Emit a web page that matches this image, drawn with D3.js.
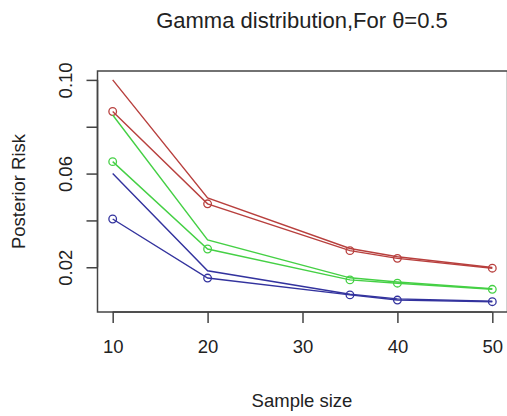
<!DOCTYPE html>
<html>
<head>
<meta charset="utf-8">
<script src="https://cdn.jsdelivr.net/npm/d3@7"></script>
<style>
  html, body { margin: 0; padding: 0; background: #fff; }
  svg { display: block; font-family: "Liberation Sans", Arial, sans-serif; }
</style>
</head>
<body>
<svg id="chart" width="507" height="416"></svg>
<script>
// Sample sizes on the x axis
const sampleSizes = [10, 20, 35, 40, 50];

// Posterior risk for each estimator (pairs: with and without point markers)
const redLine    = [0.1000, 0.0496, 0.0280, 0.0245, 0.0199];
const redPoints  = [0.0865, 0.0471, 0.0271, 0.0238, 0.0196];
const greenLine  = [0.0850, 0.0317, 0.0155, 0.0137, 0.0108];
const greenPoints= [0.0651, 0.0278, 0.0146, 0.0132, 0.0106];
const blueLine   = [0.0600, 0.0185, 0.0085, 0.0065, 0.0055];
const bluePoints = [0.0406, 0.0154, 0.0082, 0.0060, 0.0053];

// Axis ticks
const xTicks = [10, 20, 30, 40, 50];
const yTicks = [0.02, 0.04, 0.06, 0.08, 0.10];
const yTickLabels = ["0.02", "", "0.06", "", "0.10"];

const series = [
  { values: redLine,     color: "#b8403e", points: false },
  { values: redPoints,   color: "#b8403e", points: true  },
  { values: greenLine,   color: "#45d045", points: false },
  { values: greenPoints, color: "#45d045", points: true  },
  { values: blueLine,    color: "#33339e", points: false },
  { values: bluePoints,  color: "#33339e", points: true  }
];

const svg = d3.select("#chart");
const plot = { left: 97.5, right: 507.5, top: 71, bottom: 312 };

const x = d3.scaleLinear().domain([8.4, 51.6]).range([plot.left, plot.right]);
const y = d3.scaleLinear().domain([0.0009, 0.1038]).range([plot.bottom, plot.top]);

const axisColor = "#444";

// Title
svg.append("text")
  .attr("x", 302).attr("y", 28)
  .attr("text-anchor", "middle")
  .attr("font-size", 22)
  .attr("fill", "#222")
  .text("Gamma distribution,For \u03B8=0.5");

// Lines and markers
const line = d3.line().x((d, i) => x(sampleSizes[i])).y(d => y(d));
const g = svg.append("g");
series.forEach(s => {
  g.append("path")
    .datum(s.values)
    .attr("d", line)
    .attr("fill", "none")
    .attr("stroke", s.color)
    .attr("stroke-width", 1.4);
  if (s.points) {
    g.selectAll(null)
      .data(s.values)
      .enter().append("circle")
      .attr("cx", (d, i) => x(sampleSizes[i]))
      .attr("cy", d => y(d))
      .attr("r", 3.8)
      .attr("fill", "none")
      .attr("stroke", s.color)
      .attr("stroke-width", 1.3);
  }
});

// Plot frame
svg.append("rect")
  .attr("x", plot.left).attr("y", plot.top)
  .attr("width", plot.right - plot.left)
  .attr("height", plot.bottom - plot.top)
  .attr("fill", "none")
  .attr("stroke", axisColor)
  .attr("stroke-width", 1.5);

// X axis
const xAxis = d3.axisBottom(x).tickValues(xTicks).tickSize(11).tickPadding(17).tickFormat(d3.format("d"));
const xg = svg.append("g").attr("transform", `translate(0,${plot.bottom})`).call(xAxis);
xg.select(".domain").attr("stroke", axisColor).attr("stroke-width", 1.5)
  .attr("d", `M${x(xTicks[0])},0H${x(xTicks[xTicks.length - 1])}`);
xg.selectAll(".tick line").attr("stroke", axisColor).attr("stroke-width", 1.5);
xg.selectAll(".tick text").attr("font-size", 18.5).attr("fill", "#222")
  .attr("font-family", "Liberation Sans, Arial, sans-serif");

// Y axis
const yAxis = d3.axisLeft(y).tickValues(yTicks).tickSize(11).tickFormat((d, i) => yTickLabels[i]);
const yg = svg.append("g").attr("transform", `translate(${plot.left},0)`).call(yAxis);
yg.select(".domain").attr("stroke", axisColor).attr("stroke-width", 1.5)
  .attr("d", `M0,${y(yTicks[0])}V${y(yTicks[yTicks.length - 1])}`);
yg.selectAll(".tick line").attr("stroke", axisColor).attr("stroke-width", 1.5);
yg.selectAll(".tick text")
  .attr("font-size", 18.5).attr("fill", "#222")
  .attr("font-family", "Liberation Sans, Arial, sans-serif")
  .attr("x", null).attr("dy", null)
  .attr("text-anchor", "middle")
  .attr("transform", "translate(-32,0) rotate(-90)")
  .attr("y", 0)
  .attr("dominant-baseline", "central");

// Axis titles
svg.append("text")
  .attr("x", 302).attr("y", 407)
  .attr("text-anchor", "middle")
  .attr("font-size", 18.5)
  .attr("fill", "#222")
  .text("Sample size");

svg.append("text")
  .attr("transform", `translate(25,${(plot.top + plot.bottom) / 2}) rotate(-90)`)
  .attr("text-anchor", "middle")
  .attr("font-size", 18.5)
  .attr("fill", "#222")
  .text("Posterior Risk");
</script>
</body>
</html>
